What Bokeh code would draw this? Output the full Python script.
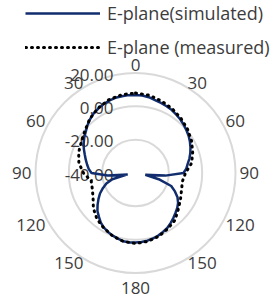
import numpy as np
from bokeh.plotting import figure
from bokeh.models import Range1d, Legend, LegendItem, ColumnDataSource
from bokeh.core.properties import value
from bokeh.embed import file_html
from bokeh.resources import INLINE

# ---- data ----
sim_angles = list(range(0, 360, 5))
sim_db = [6.8, 6.7, 6.2, 5.3, 4.7, 4.2, 3.6, 2.7, 1.9, 0.9, -0.1, -1.1,
          -2.3, -3.6, -5.0, -6.5, -8.2, -9.4, -11.2, -22.0, -34.0, -25.6, -17.2, -13.9,
          -10.9, -8.8, -7.3, -6.1, -4.7, -3.3, -1.9, -1.0, -0.1, 0.7, 1.2, 1.5,
          1.7, 1.8, 1.6, 0.8, 0.0, -1.0, -2.1, -3.7, -5.8, -7.7, -10.3, -12.9,
          -15.4, -18.4, -21.4, -25.6, -35.2, -23.2, -13.6, -11.8, -10.5, -9.1, -7.6, -5.8,
          -4.1, -2.5, -1.1, 0.7, 2.3, 3.7, 4.6, 5.5, 6.2, 6.7, 6.8, 6.9]

meas_angles = list(range(0, 360, 10))
meas_db = [8.0, 7.4, 5.9, 4.4, 2.6, 0.8, -1.2, -3.5, -5.8, -10.0, -11.4, -10.6,
           -8.8, -6.4, -3.1, -1.3, 0.5, 1.7, 2.3, 1.7, 0.2, -1.9, -4.0, -7.0,
           -10.6, -12.4, -13.0, -8.8, -5.5, -3.7, -2.5, -0.4, 2.6, 5.0, 6.8, 7.7]

ring_values = [-20, 0, 20]
ring_labels_values = [20, -0.0, -20, -40]
ring_labels = ["20.00", "0.00", "-20.00", "-40.00"]

angle_ticks = [0, 30, 60, 90, 120, 150, 180, 210, 240, 270, 300, 330]
angle_tick_labels = ["0", "30", "60", "90", "120", "150", "180", "150", "120", "90", "60", "30"]

series_names = ["E-plane(simulated)", "E-plane (measured)"]

# ---- polar mapping ----
R_MIN, R_MAX, R_PX = -40.0, 20.0, 100.0


def rad(v):
    return (np.asarray(v, dtype=float) - R_MIN) / (R_MAX - R_MIN) * R_PX


def to_xy(angles, vals):
    a = np.deg2rad(np.asarray(angles, dtype=float))
    r = rad(vals)
    x = r * np.sin(a)
    y = r * np.cos(a)
    return np.append(x, x[0]), np.append(y, y[0])


TEXT = "#3c3c3c"
FONT = value("Open Sans")

p = figure(width=271, height=300, output_backend="svg", toolbar_location=None,
           x_range=Range1d(-135, 136), y_range=Range1d(-127.5, 172.5),
           min_border=0)
p.axis.visible = False
p.xgrid.visible = False
p.ygrid.visible = False
p.outline_line_color = None

# grid rings
p.circle(x=[0] * len(ring_values), y=[0] * len(ring_values), radius=list(rad(ring_values)),
         fill_alpha=0, line_color="#d9d9d9", line_width=2)

# radial labels
rl = rad(ring_labels_values)
p.text(x=[-22] * len(rl), y=list(rl - 1.5), text=ring_labels, text_align="right",
       text_baseline="middle", text_font=FONT, text_font_size="17px", text_color=TEXT)

# angle labels
ang = np.deg2rad(angle_ticks)
s = np.sin(ang)
c = np.cos(ang)
lab_r = np.where(np.abs(s) > 0.01, 104.0, np.where(c > 0, 108.0, 115.0))
aligns = ["right" if v < -0.01 else ("left" if v > 0.01 else "center") for v in s]
src = ColumnDataSource(dict(x=lab_r * s, y=lab_r * c, t=angle_tick_labels, a=aligns))
p.text(x="x", y="y", text="t", text_align="a", text_baseline="middle", source=src,
       text_font=FONT, text_font_size="17px", text_color=TEXT)

# series
sx, sy = to_xy(sim_angles, sim_db)
mx, my = to_xy(meas_angles, meas_db)
r_sim = p.line(sx, sy, line_color="#112d6e", line_width=2.5)
r_meas = p.line(mx, my, line_color="black", line_width=3, line_dash="1 5", line_cap="round")

legend = Legend(items=[LegendItem(label=series_names[0], renderers=[r_sim]),
                       LegendItem(label=series_names[1], renderers=[r_meas])],
                location=(25, 241), orientation="vertical",
                glyph_width=75, glyph_height=20, label_height=20, spacing=10,
                padding=0, margin=0, label_standoff=7,
                background_fill_alpha=0, border_line_alpha=0,
                label_text_font="Open Sans", label_text_font_size="18px",
                label_text_color=TEXT)
p.add_layout(legend)

open("out.html", "w").write(file_html(p, INLINE))
